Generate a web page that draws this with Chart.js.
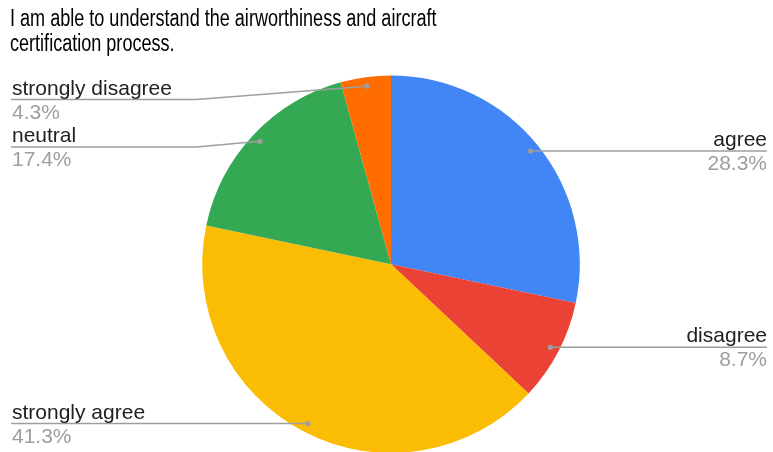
<!DOCTYPE html>
<html>
<head>
<meta charset="utf-8">
<script src="https://cdn.jsdelivr.net/npm/chart.js@4.4.1/dist/chart.umd.min.js"></script>
<style>
  html, body { margin: 0; padding: 0; background: #fff; overflow: hidden; }
  #wrap { position: relative; width: 773px; height: 460px; }
</style>
</head>
<body>
<div id="wrap"><canvas id="pie"></canvas></div>
<script>
'use strict';

// Survey answers, clockwise from 12 o'clock
const categories = ['agree', 'disagree', 'strongly agree', 'neutral', 'strongly disagree'];
const shares     = [28.3, 8.7, 41.3, 17.4, 4.3];
const sliceColors = ['#4285f4', '#ea4335', '#fbbc04', '#34a853', '#ff6d01'];

const titleLines = [
  'I am able to understand the airworthiness and aircraft',
  'certification process.',
];

const FONT      = "'Liberation Sans', Arial, Helvetica, sans-serif";
const LINE_GREY = '#9e9e9e';

// Title plus Sheets-style callouts: a dot inside the slice, a leader line
// out to the edge, name on top of the line and percentage underneath.
const calloutPlugin = {
  id: 'callouts',
  afterDraw(chart) {
    const { ctx, chartArea } = chart;
    const meta  = chart.getDatasetMeta(0);
    const total = shares.reduce((a, b) => a + b, 0);

    ctx.save();

    // title, slightly condensed like the Sheets face
    ctx.fillStyle = '#000';
    ctx.font = `23px ${FONT}`;
    ctx.textAlign = 'left';
    ctx.textBaseline = 'alphabetic';
    titleLines.forEach((t, i) => {
      ctx.save();
      ctx.translate(10, 26 + i * 25);
      ctx.scale(0.785, 1);
      ctx.fillText(t, 0, 0);
      ctx.restore();
    });

    const items = meta.data.map((arc, i) => {
      const p   = arc.getProps(['x', 'y', 'startAngle', 'endAngle', 'outerRadius'], true);
      const mid = (p.startAngle + p.endAngle) / 2;
      const r   = p.outerRadius * 0.952;
      return {
        i,
        cx: p.x, R: p.outerRadius,
        dx: p.x + Math.cos(mid) * r,
        dy: p.y + Math.sin(mid) * r,
        right: Math.cos(mid) >= 0,
      };
    });

    // keep label blocks from overlapping on each side
    const SPACING = 47.5;
    const minY = chartArea.top + 24;
    ['left', 'right'].forEach(side => {
      const list = items.filter(it => (side === 'right') === it.right)
                        .sort((a, b) => a.dy - b.dy);
      let prev = -Infinity;
      list.forEach(it => {
        it.ly = Math.max(it.dy, prev + SPACING, minY);
        prev = it.ly;
      });
    });

    items.forEach(it => {
      const edgeX = it.right ? chart.width - 6 : 11;
      const bendX = it.right ? it.cx + it.R + 6 : it.cx - it.R - 6;

      ctx.strokeStyle = LINE_GREY;
      ctx.lineWidth = 1.5;
      ctx.beginPath();
      ctx.moveTo(it.dx, it.dy);
      if (Math.abs(it.ly - it.dy) > 0.5) ctx.lineTo(bendX, it.ly);
      ctx.lineTo(edgeX, it.ly);
      ctx.stroke();

      ctx.fillStyle = LINE_GREY;
      ctx.beginPath();
      ctx.arc(it.dx, it.dy, 2.6, 0, Math.PI * 2);
      ctx.fill();

      ctx.textAlign = it.right ? 'right' : 'left';
      const tx = it.right ? edgeX : 12;
      ctx.font = `21px ${FONT}`;
      ctx.fillStyle = '#212121';
      ctx.fillText(categories[it.i], tx, it.ly - 5);
      ctx.fillStyle = '#9e9e9e';
      ctx.fillText((shares[it.i] / total * 100).toFixed(1) + '%', tx, it.ly + 19);
    });

    ctx.restore();
  },
};

new Chart(document.getElementById('pie'), {
  type: 'pie',
  data: {
    labels: categories,
    datasets: [{
      data: shares,
      backgroundColor: sliceColors,
      borderWidth: 0,
    }],
  },
  options: {
    responsive: true,
    maintainAspectRatio: false,
    animation: false,
    layout: { padding: { left: 9, right: 0, top: 75.5, bottom: 7 } },
    plugins: {
      legend:  { display: false },
      tooltip: { enabled: false },
      title:   { display: false },
    },
  },
  plugins: [calloutPlugin],
});
</script>
</body>
</html>
